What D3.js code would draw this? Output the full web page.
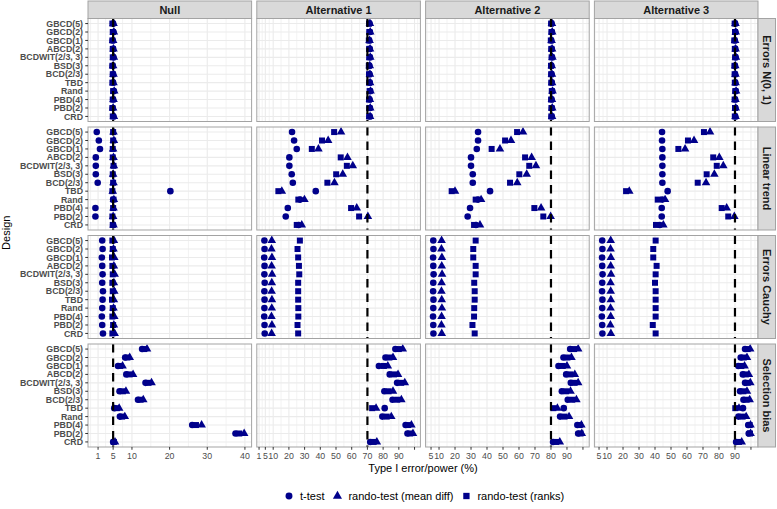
<!DOCTYPE html>
<html><head><meta charset="utf-8">
<script src="https://cdn.jsdelivr.net/npm/d3@7/dist/d3.min.js"></script>
<style>
body{margin:0;background:#fff;}
svg{display:block;}
text{font-family:"Liberation Sans",Arial,Helvetica,sans-serif;}
</style>
</head><body>
<svg id="chart" width="777" height="509"></svg>
<script>
// ---------------- data ----------------
const designs = ["GBCD(5)","GBCD(2)","GBCD(1)","ABCD(2)","BCDWIT(2/3, 3)","BSD(3)","BCD(2/3)","TBD","Rand","PBD(4)","PBD(2)","CRD"];
const hypotheses = ["Null","Alternative 1","Alternative 2","Alternative 3"];
const scenarios = ["Errors N(0, 1)","Linear trend","Errors Cauchy","Selection bias"];
const tests = ["t-test","rando-test (mean diff)","rando-test (ranks)"];
const referenceLines = [5, 70, 80, 90];
const ticksNull = [1,5,10,20,30,40];
const ticksAlt = [1,5,10,20,30,40,50,60,70,80,90,100];
const unlabeledTicks = [100];

// each array: rows = Null, Alternative 1, Alternative 2, Alternative 3; columns follow `designs`
const normalT = [
  [5.0,5.1,4.9,5.0,5.1,4.9,5.0,5.0,5.2,5.0,4.9,5.1],
  [71.4,71.6,71.2,71.5,71.6,71.3,71.4,71.5,71.8,71.4,71.6,71.5],
  [80.4,80.6,80.2,80.5,80.7,80.3,80.4,80.5,80.8,80.4,80.6,80.5],
  [90.1,90.3,89.9,90.2,90.4,90.0,90.1,90.2,90.5,90.1,90.3,90.2]];
const normalMean = [
  [5.1,5.2,5.0,5.1,5.2,5.0,5.1,5.1,5.3,5.1,5.0,5.2],
  [71.6,71.8,71.4,71.7,71.8,71.5,71.6,71.7,72.0,71.6,71.8,71.7],
  [80.6,80.8,80.4,80.7,80.9,80.5,80.6,80.7,81.0,80.6,80.8,80.7],
  [90.3,90.5,90.1,90.4,90.6,90.2,90.3,90.4,90.7,90.3,90.5,90.4]];
const normalRanks = [
  [4.8,4.9,4.8,4.9,4.9,4.8,4.9,4.8,5.0,4.9,4.8,4.9],
  [71.0,71.2,70.9,71.1,71.2,70.9,71.0,71.1,71.4,71.0,71.2,71.1],
  [80.1,80.3,79.9,80.2,80.4,80.0,80.1,80.2,80.5,80.1,80.3,80.2],
  [89.8,90.0,89.6,89.9,90.1,89.7,89.8,89.9,90.2,89.8,90.0,89.9]];

const linearT = [
  [0.65,1.2,1.5,0.4,0.4,0.4,0.9,20.2,5.0,0.3,0.3,5.0],
  [22.0,23.3,25.0,20.3,20.3,21.8,22.5,37.1,27.1,19.3,18.0,26.2],
  [34.4,34.4,33.6,30.0,30.0,31.1,31.1,41.9,34.4,29.4,27.9,33.1],
  [44.4,44.4,44.6,44.6,44.6,44.6,44.6,47.9,44.5,44.2,44.2,43.0]];
const linearMean = [
  [5.1,5.2,5.0,5.1,5.2,5.0,5.1,4.9,5.2,5.1,5.0,5.1],
  [53.2,45.0,38.8,57.3,60.7,54.3,49.0,15.5,29.9,63.2,70.3,28.2],
  [62.5,55.0,48.1,67.9,70.6,64.8,58.9,20.0,36.3,73.8,79.8,35.6],
  [74.4,64.4,58.8,80.2,82.7,77.1,71.9,23.9,46.3,84.8,89.6,45.2]];
const linearRanks = [
  [5.0,5.0,4.9,4.9,5.1,4.9,5.0,4.8,5.1,5.0,4.8,4.9],
  [48.8,41.1,34.6,53.0,56.9,50.1,44.5,13.3,26.0,59.6,64.7,25.0],
  [58.8,51.3,42.9,63.8,66.4,60.2,54.4,17.9,32.9,69.6,75.2,31.9],
  [70.6,60.6,54.6,76.4,78.6,72.3,66.7,21.9,41.7,81.7,85.8,40.6]];

const cauchyT = [
  [2.1,2.2,2.0,2.1,2.2,2.1,2.3,2.2,2.1,2.0,2.1,2.3],
  [4.4,4.5,4.3,4.5,4.4,4.6,4.4,4.5,4.4,4.3,4.5,4.6],
  [6.4,6.5,6.3,6.4,6.6,6.4,6.3,6.5,6.4,6.25,6.4,6.5],
  [7.0,7.1,6.9,7.0,7.2,7.0,6.9,7.1,7.0,6.75,7.0,7.1]];
const cauchyMean = [
  [5.2,5.1,5.3,5.2,5.4,5.2,5.3,5.2,5.1,5.3,5.2,5.4],
  [9.1,8.9,9.2,9.0,9.3,9.1,9.0,9.2,9.1,8.9,9.2,9.0],
  [11.6,11.5,11.8,11.7,11.9,11.6,11.5,11.7,11.8,11.6,11.5,11.7],
  [12.3,12.2,12.4,12.3,12.5,12.2,12.3,12.4,12.2,12.3,12.1,12.4]];
const cauchyRanks = [
  [4.8,4.9,4.7,4.8,4.9,4.8,4.9,4.7,4.9,4.8,5.0,4.8],
  [27.0,25.5,25.9,26.4,26.6,25.9,25.9,25.9,26.0,26.0,25.5,25.9],
  [32.9,31.4,31.4,32.9,32.9,32.0,32.3,32.3,32.0,31.9,30.9,32.3],
  [40.4,38.9,38.9,41.0,40.4,40.0,40.4,40.4,40.4,40.4,38.6,40.4]];

const selectionT = [
  [12.7,8.2,6.3,8.5,13.6,6.7,11.6,5.3,6.8,26.0,37.5,5.0],
  [87.8,81.5,77.3,84.2,88.9,80.8,86.0,81.0,79.5,94.3,95.5,71.8],
  [92.0,87.8,84.7,89.5,92.4,86.8,90.5,88.0,85.7,96.5,97.0,81.3],
  [96.3,93.6,92.1,94.9,96.3,93.2,95.3,95.0,92.2,98.3,98.6,90.7]];
const selectionMean = [
  [14.0,9.4,7.5,10.3,15.2,8.4,13.0,6.6,8.1,28.5,39.8,5.5],
  [92.5,86.3,83.0,89.5,93.8,86.3,91.6,75.5,85.2,98.0,99.0,76.0],
  [97.0,92.8,90.0,94.9,97.0,92.2,95.9,84.0,91.3,99.0,99.25,85.5],
  [99.5,97.5,96.0,98.7,99.6,97.5,99.2,92.5,97.0,99.7,99.75,94.2]];
const selectionRanks = [
  [13.3,8.8,6.9,9.4,14.4,7.6,12.3,6.0,7.4,27.0,38.5,5.2],
  [90.0,84.0,80.5,87.0,91.5,83.5,89.0,73.0,82.3,96.0,97.3,74.0],
  [94.5,90.3,87.4,92.2,94.8,89.5,93.3,81.5,88.5,98.0,98.5,83.3],
  [98.0,95.5,94.0,96.8,98.0,95.3,97.3,90.2,94.8,99.2,99.4,92.5]];

// ---------------- layout ----------------
const seriesByScenario = [
  [normalT, normalMean, normalRanks],
  [linearT, linearMean, linearRanks],
  [cauchyT, cauchyMean, cauchyRanks],
  [selectionT, selectionMean, selectionRanks]];
const tickSets = [ticksNull, ticksAlt, ticksAlt, ticksAlt];

const panelLeft = 88, panelTop = 18.5, panelW = 163.6, panelH = 103, gapX = 5.2, gapY = 5.5, stripH = 17.5;
const pointColor = "#00008B";
const gridColor = "#EBEBEB";
const borderColor = "#A3A3A3";
const stripFill = "#D9D9D9";
const shapes = [d3.symbolCircle, d3.symbolTriangle, d3.symbolSquare];
const shapeSizes = [34, 32, 36];

const svg = d3.select("#chart");
svg.append("rect").attr("width",777).attr("height",509).attr("fill","#fff");

const y = d3.scalePoint().domain(designs).range([0, panelH]).padding(0.6);

function minorBreaks(major, domain){
  const b = major.slice();
  const bd = b[1]-b[0];
  if (domain[0] < b[0]) b.unshift(b[0]-bd);
  if (domain[1] > b[b.length-1]) b.push(b[b.length-1]+bd);
  const m = [];
  for (let i=0;i<b.length-1;i++) m.push((b[i]+b[i+1])/2);
  return m.filter(v => v>=domain[0] && v<=domain[1]);
}

hypotheses.forEach((hyp, ci) => {
  const vals = seriesByScenario.flatMap(s => s.flatMap(t => t[ci])).concat([referenceLines[ci]]);
  const [mn, mx] = d3.extent(vals);
  const pad = (mx - mn) * 0.05;
  const dom = [mn - pad, mx + pad];
  const x = d3.scaleLinear().domain(dom).range([0, panelW]);
  const majors = tickSets[ci].filter(v => v>=dom[0] && v<=dom[1]);
  const minors = minorBreaks(majors, dom);
  const px = panelLeft + ci*(panelW+gapX);

  // top strip
  const sg = svg.append("g").attr("transform",`translate(${px},1)`);
  sg.append("rect").attr("width",panelW).attr("height",stripH)
    .attr("fill",stripFill).attr("stroke",borderColor).attr("stroke-width",1);
  sg.append("text").attr("x",panelW/2).attr("y",stripH/2).attr("dy","0.36em")
    .attr("text-anchor","middle").attr("font-size",11).attr("font-weight","bold")
    .attr("fill","#1A1A1A").text(hyp);

  scenarios.forEach((sc, ri) => {
    const py = panelTop + ri*(panelH+gapY);
    const g = svg.append("g").attr("transform",`translate(${px},${py})`);
    g.append("rect").attr("width",panelW).attr("height",panelH).attr("fill","#fff");
    g.selectAll(".minor").data(minors).join("line")
      .attr("x1",d=>x(d)).attr("x2",d=>x(d)).attr("y1",0).attr("y2",panelH)
      .attr("stroke",gridColor).attr("stroke-width",0.6);
    g.selectAll(".majx").data(majors).join("line")
      .attr("x1",d=>x(d)).attr("x2",d=>x(d)).attr("y1",0).attr("y2",panelH)
      .attr("stroke",gridColor).attr("stroke-width",1.1);
    g.selectAll(".majy").data(designs).join("line")
      .attr("x1",0).attr("x2",panelW).attr("y1",d=>y(d)).attr("y2",d=>y(d))
      .attr("stroke",gridColor).attr("stroke-width",1.1);

    seriesByScenario[ri].forEach((series, ti) => {
      const sym = d3.symbol().type(shapes[ti]).size(shapeSizes[ti]);
      g.append("g").selectAll("path").data(series[ci]).join("path")
        .attr("transform",(d,i)=>`translate(${x(d)},${y(designs[i])})`)
        .attr("d",sym).attr("fill",pointColor);
    });

    g.append("line").attr("x1",x(referenceLines[ci])).attr("x2",x(referenceLines[ci]))
      .attr("y1",0).attr("y2",panelH).attr("stroke","#000").attr("stroke-width",2.2)
      .attr("stroke-dasharray","8.5,6");

    g.append("rect").attr("width",panelW).attr("height",panelH)
      .attr("fill","none").attr("stroke",borderColor).attr("stroke-width",1);

    // right strips
    if (ci === hypotheses.length-1) {
      const rs = svg.append("g").attr("transform",`translate(${px+panelW},${py})`);
      rs.append("rect").attr("width",stripH).attr("height",panelH)
        .attr("fill",stripFill).attr("stroke",borderColor).attr("stroke-width",1);
      rs.append("text").attr("transform",`translate(${stripH/2},${panelH/2}) rotate(90)`)
        .attr("dy","0.36em").attr("text-anchor","middle").attr("font-size",11)
        .attr("font-weight","bold").attr("fill","#1A1A1A").text(sc);
    }
    // y axis
    if (ci === 0) {
      const ya = g.append("g");
      ya.selectAll("line").data(designs).join("line")
        .attr("x1",-2.75).attr("x2",0).attr("y1",d=>y(d)).attr("y2",d=>y(d))
        .attr("stroke","#333").attr("stroke-width",1);
      ya.selectAll("text").data(designs).join("text")
        .attr("x",-5).attr("y",d=>y(d)).attr("dy","0.35em").attr("text-anchor","end")
        .attr("font-size",8.8).attr("font-weight","bold").attr("fill","#4D4D4D").text(d=>d);
    }
    // x axis
    if (ri === scenarios.length-1) {
      const xa = g.append("g").attr("transform",`translate(0,${panelH})`);
      xa.selectAll("line").data(majors).join("line")
        .attr("x1",d=>x(d)).attr("x2",d=>x(d)).attr("y1",0).attr("y2",2.75)
        .attr("stroke","#333").attr("stroke-width",1);
      xa.selectAll("text").data(majors).join("text")
        .attr("x",d=>x(d)).attr("y",11.5).attr("text-anchor","middle")
        .attr("font-size",8.8).attr("fill","#4D4D4D")
        .text(d => unlabeledTicks.includes(d) ? "" : d);
    }
  });
});

// axis titles
const panelsRight = panelLeft + 4*panelW + 3*gapX;
const panelsBottom = panelTop + 4*panelH + 3*gapY;
svg.append("text").attr("x",(panelLeft+panelsRight)/2).attr("y",471.5)
  .attr("text-anchor","middle").attr("font-size",11).attr("fill","#000")
  .text("Type I error/power (%)");
svg.append("text").attr("transform",`translate(10,${(panelTop+panelsBottom)/2}) rotate(-90)`)
  .attr("text-anchor","middle").attr("font-size",11).attr("fill","#000").text("Design");

// legend
const lg = svg.append("g").attr("transform","translate(0,496)");
let kx = 289;
tests.forEach((t, ti) => {
  lg.append("path").attr("transform",`translate(${kx},0)`)
    .attr("d", d3.symbol().type(shapes[ti]).size(shapeSizes[ti]+4)).attr("fill",pointColor);
  const tx = lg.append("text").attr("x",kx+11).attr("y",0).attr("dy","0.35em")
    .attr("font-size",11).attr("fill","#000").text(t);
  kx = kx + 11 + tx.node().getComputedTextLength() + 13;
});
</script>
</body></html>
